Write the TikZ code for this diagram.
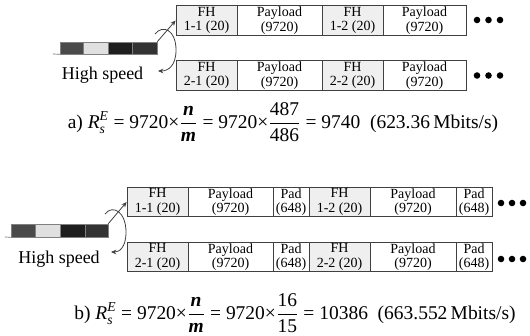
\documentclass[tikz,border=0pt]{standalone}
\usepackage{amsmath}
\usepackage{fontspec}
\setmainfont{Liberation Serif}
\usetikzlibrary{arrows.meta}
\definecolor{fhgray}{HTML}{EFEFEF}
\definecolor{segA}{HTML}{4A4A4A}
\definecolor{segB}{HTML}{E0E0E0}
\definecolor{segC}{HTML}{1E1E1E}
\definecolor{segD}{HTML}{333333}
\tikzset{
  cell/.style={draw=black!75, line width=0.6pt, inner sep=0pt, align=center,
    font=\fontsize{10.5}{11}\selectfont},
  fhcell/.style={cell, fill=fhgray},
  seg/.style={draw=black!50, line width=0.4pt, inner sep=0pt},
  dot/.style={circle, fill=black, inner sep=0pt, minimum size=4.9pt},
  lbl/.style={inner sep=0pt, font=\fontsize{13.5}{15}\selectfont},
  formula/.style={inner sep=0pt, font=\fontsize{14.6}{16}\selectfont},
  arr/.style={draw=black!75, line width=0.6pt, -{Stealth[length=4pt,width=3.5pt]}},
  thinline/.style={draw=black!60, line width=0.5pt}
}
\begin{document}
\begin{tikzpicture}[x=0.75pt,y=-0.75pt]
\useasboundingbox (0,0) rectangle (530,335);
% ---------- part a ----------
\node[fhcell, minimum width=61*0.75pt, minimum height=30*0.75pt] (t11) at (206.5,20.5) {FH\\1-1 (20)};
\node[cell, minimum width=85*0.75pt, minimum height=30*0.75pt] (tp1) at (279.5,20.5) {Payload\\(9720)};
\node[fhcell, minimum width=61*0.75pt, minimum height=30*0.75pt] (t12) at (352.5,20.5) {FH\\1-2 (20)};
\node[cell, minimum width=83*0.75pt, minimum height=30*0.75pt] (tp2) at (424.5,20.5) {Payload\\(9720)};
\node[fhcell, minimum width=61*0.75pt, minimum height=30*0.75pt] (t21) at (206.5,75.5) {FH\\2-1 (20)};
\node[cell, minimum width=85*0.75pt, minimum height=30*0.75pt] (tq1) at (279.5,75.5) {Payload\\(9720)};
\node[fhcell, minimum width=61*0.75pt, minimum height=30*0.75pt] (t22) at (352.5,75.5) {FH\\2-2 (20)};
\node[cell, minimum width=83*0.75pt, minimum height=30*0.75pt] (tq2) at (424.5,75.5) {Payload\\(9720)};
\node[dot] (td1) at (477,20) {}; \node[dot] (td2) at (488.5,20) {}; \node[dot] (td3) at (500,20) {};
\node[dot] (te1) at (477,75.5) {}; \node[dot] (te2) at (488.5,75.5) {}; \node[dot] (te3) at (500,75.5) {};
% bar
\node[seg, fill=segA, minimum width=23*0.75pt, minimum height=12*0.75pt] (a1) at (71.5,48) {};
\node[seg, fill=segB, minimum width=25*0.75pt, minimum height=12*0.75pt] (a2) at (95.5,48) {};
\node[seg, fill=segC, minimum width=24*0.75pt, minimum height=12*0.75pt] (a3) at (120,48) {};
\node[seg, fill=segD, minimum width=25*0.75pt, minimum height=12*0.75pt] (a4) at (144.5,48) {};
\coordinate (al) at (53,54);
\draw[thinline] (al) -- (a1.south west);
\node[lbl] (hs1) at (102.5,75) {High speed};
\draw[arr] (a4.north east) -- (t11.west);
\coordinate (ca1) at (155,34);
\coordinate (ca2) at (176,50);
\coordinate (ca3) at (158,71);
\draw[arr] (ca1) .. controls (163,24) and (176,30) .. (ca2) .. controls (176,66) and (168,71) .. (ca3);
\node[formula] (fa) at (283,122) {a) $\text{\textit{R}}_{\text{\textit{s}}}^{\text{\textit{E}}}$ = 9720×$\dfrac{\text{\textbf{\textit{n}}}}{\text{\textbf{\textit{m}}}}$ = 9720×$\dfrac{\text{487}}{\text{486}}$ = 9740 \ (623.36\,Mbits/s)};
% ---------- part b ----------
\node[fhcell, minimum width=61*0.75pt, minimum height=29*0.75pt] (b11) at (157.5,202) {FH\\1-1 (20)};
\node[cell, minimum width=85*0.75pt, minimum height=29*0.75pt] (bp1) at (230.5,202) {Payload\\(9720)};
\node[cell, minimum width=36*0.75pt, minimum height=29*0.75pt] (bd1) at (291,202) {Pad\\(648)};
\node[fhcell, minimum width=61*0.75pt, minimum height=29*0.75pt] (b12) at (339.5,202) {FH\\1-2 (20)};
\node[cell, minimum width=86*0.75pt, minimum height=29*0.75pt] (bp2) at (413,202) {Payload\\(9720)};
\node[cell, minimum width=36*0.75pt, minimum height=29*0.75pt] (bd2) at (474,202) {Pad\\(648)};
\node[fhcell, minimum width=61*0.75pt, minimum height=29*0.75pt] (b21) at (157.5,257) {FH\\2-1 (20)};
\node[cell, minimum width=85*0.75pt, minimum height=29*0.75pt] (bq1) at (230.5,257) {Payload\\(9720)};
\node[cell, minimum width=36*0.75pt, minimum height=29*0.75pt] (be1) at (291,257) {Pad\\(648)};
\node[fhcell, minimum width=61*0.75pt, minimum height=29*0.75pt] (b22) at (339.5,257) {FH\\2-2 (20)};
\node[cell, minimum width=86*0.75pt, minimum height=29*0.75pt] (bq2) at (413,257) {Payload\\(9720)};
\node[cell, minimum width=36*0.75pt, minimum height=29*0.75pt] (be2) at (474,257) {Pad\\(648)};
\node[dot] (bd1a) at (501,203) {}; \node[dot] (bd1b) at (512,203) {}; \node[dot] (bd1c) at (523,203) {};
\node[dot] (bd2a) at (501,259) {}; \node[dot] (bd2b) at (512,259) {}; \node[dot] (bd2c) at (523,259) {};
% bar
\node[seg, fill=segA, minimum width=24*0.75pt, minimum height=13*0.75pt] (c1) at (23,230.5) {};
\node[seg, fill=segB, minimum width=25*0.75pt, minimum height=13*0.75pt] (c2) at (47.5,230.5) {};
\node[seg, fill=segC, minimum width=25*0.75pt, minimum height=13*0.75pt] (c3) at (72.5,230.5) {};
\node[seg, fill=segD, minimum width=23*0.75pt, minimum height=13*0.75pt] (c4) at (96.5,230.5) {};
\coordinate (cl) at (5,237);
\draw[thinline] (cl) -- (c1.south west);
\node[lbl] (hs2) at (59,259) {High speed};
\draw[arr] (c4.north east) -- (b11.west);
\coordinate (cb1) at (105,214);
\coordinate (cb2) at (126,232);
\coordinate (cb3) at (111,252);
\draw[arr] (cb1) .. controls (113,204) and (126,212) .. (cb2) .. controls (126,248) and (119,252) .. (cb3);
\node[formula] (fb) at (295,313) {b) $\text{\textit{R}}_{\text{\textit{s}}}^{\text{\textit{E}}}$ = 9720×$\dfrac{\text{\textbf{\textit{n}}}}{\text{\textbf{\textit{m}}}}$ = 9720×$\dfrac{\text{16}}{\text{15}}$ = 10386 \ (663.552\,Mbits/s)};
\end{tikzpicture}
\end{document}
